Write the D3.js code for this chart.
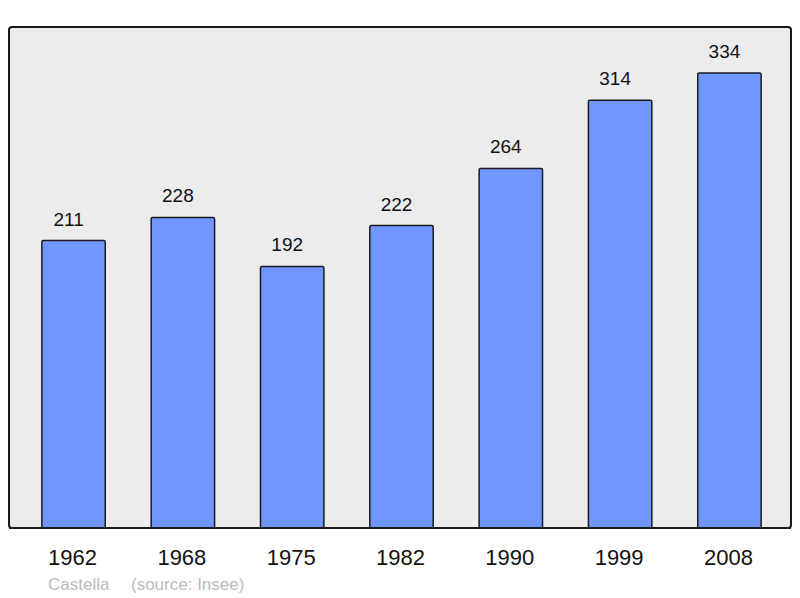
<!DOCTYPE html>
<html lang="fr">
<head>
    <meta charset="UTF-8" />
    <title>Castella population</title>
    <script src="https://cdnjs.cloudflare.com/ajax/libs/d3/7.8.5/d3.min.js"></script>
    <style>
        body {
            margin: 0;
            padding: 0;
            background: #fff;
            font-family: 'Liberation Sans', Arial, sans-serif;
        }
    </style>
</head>
<body>
    <svg id="chart" width="800" height="598"></svg>
    <script>
        const years = ["1962", "1968", "1975", "1982", "1990", "1999", "2008"];
        const population = [211, 228, 192, 222, 264, 314, 334];
        const commune = "Castella";
        const source = "(source: Insee)";

        const svg = d3.select("#chart");
        const frame = { left: 9, top: 27, right: 791, bottom: 528 };

        // plot frame
        svg.append("rect")
            .attr("x", frame.left)
            .attr("y", frame.top)
            .attr("width", frame.right - frame.left)
            .attr("height", frame.bottom - frame.top)
            .attr("rx", 3)
            .attr("fill", "#ececec")
            .attr("stroke", "#1a1a1a")
            .attr("stroke-width", 2);

        const x = d3.scaleBand()
            .domain(years)
            .range([20, 783])
            .paddingInner(0.42)
            .paddingOuter(0.2);

        const y = d3.scaleLinear()
            .domain([0, 367.8])
            .range([frame.bottom, frame.top]);

        const data = years.map((yr, i) => ({ year: yr, value: population[i] }));

        svg.append("g")
            .selectAll("rect")
            .data(data)
            .join("rect")
            .attr("x", d => x(d.year))
            .attr("y", d => y(d.value))
            .attr("width", x.bandwidth())
            .attr("height", d => y(0) - y(d.value))
            .attr("rx", 1.5)
            .attr("fill", "#7096ff")
            .attr("stroke", "#1a1a1a")
            .attr("stroke-width", 1.5);

        // redraw frame bottom edge above bars
        svg.append("line")
            .attr("x1", frame.left)
            .attr("x2", frame.right)
            .attr("y1", frame.bottom)
            .attr("y2", frame.bottom)
            .attr("stroke", "#1a1a1a")
            .attr("stroke-width", 2);

        // value labels sit a little left of the bar centre
        svg.append("g")
            .selectAll("text")
            .data(data)
            .join("text")
            .attr("x", d => x(d.year) + x.bandwidth() / 2 - 5)
            .attr("y", d => y(d.value) - 15)
            .attr("text-anchor", "middle")
            .attr("font-size", "19px")
            .attr("fill", "#111")
            .text(d => d.value);

        svg.append("g")
            .selectAll("text")
            .data(years)
            .join("text")
            .attr("x", d => x(d) + x.bandwidth() / 2 - 1)
            .attr("y", 565)
            .attr("text-anchor", "middle")
            .attr("font-size", "22px")
            .attr("fill", "#111")
            .text(d => d);

        svg.append("text")
            .attr("x", 48)
            .attr("y", 590)
            .attr("font-size", "17px")
            .attr("fill", "#bbbbbb")
            .text(commune);

        svg.append("text")
            .attr("x", 131)
            .attr("y", 590)
            .attr("font-size", "17px")
            .attr("fill", "#bbbbbb")
            .text(source);
    </script>
</body>
</html>
